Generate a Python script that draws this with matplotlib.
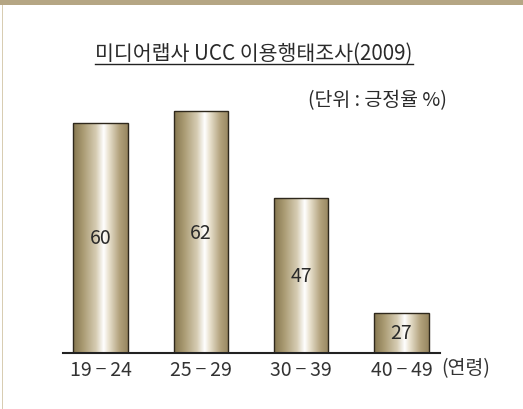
import numpy as np
import matplotlib
matplotlib.use("Agg")
import matplotlib.pyplot as plt
from matplotlib.colors import LinearSegmentedColormap
from matplotlib.patches import Rectangle

plt.rcParams['font.family'] = ['Noto Sans CJK KR', 'DejaVu Sans']

# data
age_groups = ['19\u2009−\u200924', '25\u2009−\u200929', '30\u2009−\u200939', '40\u2009−\u200949']
positive_rate = [60, 62, 47, 27]
title = '미디어랩사 UCC 이용행태조사(2009)'
unit_note = '(단위 : 긍정율 %)'
axis_note = '(연령)'

W, H = 523, 410
fig = plt.figure(figsize=(W / 100, H / 100), dpi=100)
fig.patch.set_facecolor('white')

# frame decoration: tan band on top, thin line on the left
fig.patches.append(Rectangle((0, 1 - 6 / H), 1, 6 / H, transform=fig.transFigure,
                             facecolor='#b5a684', edgecolor='none', zorder=0))
fig.patches.append(Rectangle((2 / W, 0), 1.2 / W, 1 - 6 / H, transform=fig.transFigure,
                             facecolor='#d8cdb2', edgecolor='none', zorder=0))

left, right, bottom_px, top_px = 63, 440, 354, 95
ax = fig.add_axes([left / W, 1 - bottom_px / H, (right - left) / W, (bottom_px - top_px) / H])
ax.set_facecolor('none')

ymin, ymax = 20, 65
x = np.arange(len(age_groups))
bars = ax.bar(x, positive_rate, width=0.54, color='none', edgecolor='#2e281c',
              linewidth=1.0, zorder=3)

cmap = LinearSegmentedColormap.from_list('metal', [
    (0.0, '#85764f'), (0.18, '#a99a72'), (0.42, '#d6ccb3'),
    (0.56, '#ffffff'), (0.64, '#ece5d4'), (0.85, '#b1a17b'), (1.0, '#978660')])
grad = np.linspace(0, 1, 256).reshape(1, -1)
for b in bars:
    x0 = b.get_x()
    im = ax.imshow(grad, cmap=cmap, aspect='auto', zorder=2,
                   extent=(x0, x0 + b.get_width(), ymin, b.get_height()))
    im.set_clip_path(b)

for xi, v in zip(x, positive_rate):
    ax.text(xi, (ymin + v) / 2, str(v), ha='center', va='center',
            fontsize=14, fontweight='light', color='#2a2a2a', zorder=4)

ax.set_xlim(-0.374, 3.384)
ax.set_ylim(ymin, ymax)
for s in ['left', 'right', 'top']:
    ax.spines[s].set_visible(False)
ax.spines['bottom'].set_color('#222222')
ax.spines['bottom'].set_linewidth(1.5)
ax.spines['bottom'].set_zorder(5)
ax.set_yticks([])
ax.set_xticks(x)
ax.set_xticklabels(age_groups, fontsize=14, fontweight='light', color='#333333')
ax.tick_params(axis='x', length=0, pad=4)

fig.text(254 / W, 1 - 54 / H, title, ha='center', va='center', fontsize=14.8,
         fontweight='light', color='#2a2a2a')
fig.add_artist(plt.Line2D([95 / W, 413 / W], [1 - 64.5 / H, 1 - 64.5 / H],
                          transform=fig.transFigure, color='#222222', linewidth=1.0))
fig.text(447 / W, 1 - 101 / H, unit_note, ha='right', va='center', fontsize=14,
         fontweight='light', color='#2a2a2a')
fig.text(441 / W, 1 - 369 / H, axis_note, ha='left', va='center', fontsize=14,
         fontweight='light', color='#333333')

fig.savefig('out.png', dpi=100)
